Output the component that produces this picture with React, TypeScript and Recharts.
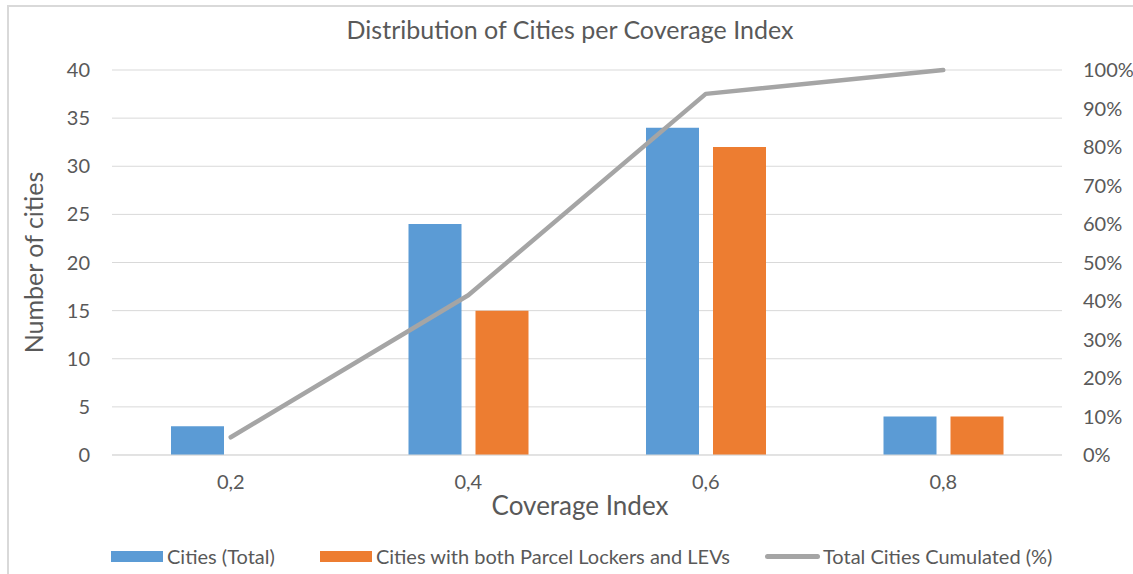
import React from 'react';
import { ComposedChart, Bar, Line, XAxis, YAxis, CartesianGrid, Legend } from 'recharts';

const categories = ['0,2', '0,4', '0,6', '0,8'];
const citiesTotal = [3, 24, 34, 4];
const citiesBoth = [0, 15, 32, 4];
const cumulatedPct = [4.6, 41.5, 93.8, 100];
const leftTicks = [0, 5, 10, 15, 20, 25, 30, 35, 40];
const rightTicks = [0, 10, 20, 30, 40, 50, 60, 70, 80, 90, 100];

const data = categories.map((c, i) => ({
  cat: c,
  total: citiesTotal[i],
  both: citiesBoth[i],
  cum: cumulatedPct[i],
}));

const FONT = 'Lato, "Open Sans", sans-serif';
const TEXT = '#595959';
const BLUE = '#5b9bd5';
const ORANGE = '#ed7d31';
const GRAY = '#a5a5a5';
const GRID = '#d9d9d9';

const LegendContent = () => (
  <div
    style={{
      display: 'flex',
      alignItems: 'center',
      height: 30,
      paddingLeft: 111,
      fontFamily: FONT,
      fontSize: 20,
      color: TEXT,
      whiteSpace: 'nowrap',
    }}
  >
    <span style={{ display: 'inline-block', width: 52, height: 11, background: BLUE, marginRight: 4 }} />
    <span style={{ marginRight: 45 }}>Cities (Total)</span>
    <span style={{ display: 'inline-block', width: 52, height: 11, background: ORANGE, marginRight: 4 }} />
    <span style={{ marginRight: 35 }}>Cities with both Parcel Lockers and LEVs</span>
    <span style={{ display: 'inline-block', width: 55, height: 5, borderRadius: 3, background: GRAY, marginRight: 3 }} />
    <span>Total Cities Cumulated (%)</span>
  </div>
);

export default function App() {
  return (
    <div style={{ position: 'absolute', left: 0, top: 0, width: 1133, height: 574, overflow: 'hidden', background: '#fff' }}>
      <div
        style={{
          position: 'absolute',
          left: 7,
          top: 5,
          width: 1140,
          height: 590,
          border: `2px solid ${GRID}`,
          boxSizing: 'border-box',
        }}
      />
      <div
        style={{
          position: 'absolute',
          left: 0,
          top: 14,
          width: 1140,
          textAlign: 'center',
          fontFamily: FONT,
          fontSize: 25,
          color: TEXT,
        }}
      >
        Distribution of Cities per Coverage Index
      </div>
      <div style={{ position: 'absolute', left: 0, top: 0 }}>
        <ComposedChart
          width={1133}
          height={574}
          data={data}
          margin={{ top: 70, right: 11, left: 0, bottom: 29 }}
          barSize={53}
          barGap={14}
        >
          <CartesianGrid vertical={false} stroke={GRID} yAxisId="left" />
          <XAxis
            dataKey="cat"
            height={60}
            tickLine={false}
            axisLine={{ stroke: GRID }}
            tickMargin={14}
            tick={{ fill: TEXT, fontSize: 20, fontFamily: FONT }}
            interval={0}
            label={{
              content: (props: any) => {
                const vb = props.viewBox || {};
                return (
                  <text
                    x={vb.x + vb.width / 2 - 7}
                    y={vb.y + 60}
                    textAnchor="middle"
                    fill={TEXT}
                    fontSize={26}
                    fontFamily={FONT}
                  >
                    Coverage Index
                  </text>
                );
              },
            }}
          />
          <YAxis
            yAxisId="left"
            width={112}
            domain={[0, 40]}
            ticks={leftTicks}
            tickLine={false}
            axisLine={false}
            tickMargin={16}
            tick={{ fill: TEXT, fontSize: 20, fontFamily: FONT }}
            label={{
              content: (props: any) => {
                const vb = props.viewBox || {};
                const cy = vb.y + vb.height / 2;
                return (
                  <text
                    x={33}
                    y={cy}
                    transform={`rotate(-90, 33, ${cy})`}
                    textAnchor="middle"
                    dominantBaseline="central"
                    fill={TEXT}
                    fontSize={25}
                    fontFamily={FONT}
                  >
                    Number of cities
                  </text>
                );
              },
            }}
          />
          <YAxis
            yAxisId="right"
            orientation="right"
            width={60}
            domain={[0, 100]}
            ticks={rightTicks}
            tickFormatter={(v: number) => `${v}%`}
            tickLine={false}
            axisLine={false}
            tickMargin={15}
            tick={{ fill: TEXT, fontSize: 20, fontFamily: FONT, textAnchor: 'start' }}
          />
          <Bar yAxisId="left" dataKey="total" name="Cities (Total)" fill={BLUE} isAnimationActive={false} />
          <Bar yAxisId="left" dataKey="both" name="Cities with both Parcel Lockers and LEVs" fill={ORANGE} isAnimationActive={false} />
          <Line
            yAxisId="right"
            dataKey="cum"
            name="Total Cities Cumulated (%)"
            stroke={GRAY}
            strokeWidth={4.5}
            strokeLinecap="round"
            strokeLinejoin="round"
            type="linear"
            dot={false}
            activeDot={false}
            isAnimationActive={false}
          />
          <Legend
            verticalAlign="bottom"
            content={<LegendContent />}
            wrapperStyle={{ position: 'absolute', left: 0, top: 541, width: 1133, height: 30 }}
          />
        </ComposedChart>
      </div>
    </div>
  );
}
